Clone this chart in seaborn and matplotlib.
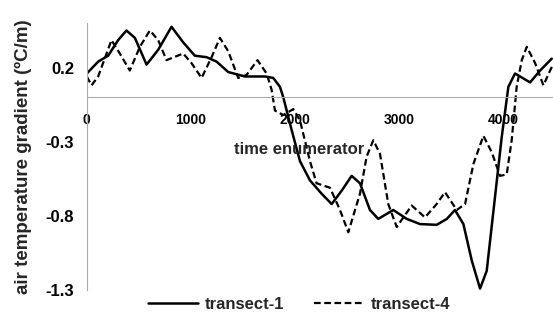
import pandas as pd
import matplotlib
matplotlib.use("Agg")
import matplotlib.pyplot as plt
import seaborn as sns

# values
t1_x = [0, 109, 205, 301, 381, 462, 574, 686, 814, 926, 1038, 1151, 1247, 1359,
        1519, 1712, 1792, 1856, 1888, 1968, 2048, 2144, 2256, 2353, 2449, 2545,
        2625, 2721, 2801, 2945, 3074, 3202, 3362, 3460, 3538, 3619, 3699, 3779,
        3843, 3923, 3987, 4051, 4115, 4260, 4356, 4468]
t1_y = [0.16, 0.24, 0.28, 0.385, 0.45, 0.40, 0.22, 0.32, 0.475, 0.37, 0.28, 0.27, 0.24, 0.17,
        0.14, 0.14, 0.13, 0.07, 0.0, -0.22, -0.43, -0.56, -0.65, -0.72, -0.63, -0.53,
        -0.58, -0.76, -0.82, -0.76, -0.82, -0.855, -0.86, -0.82, -0.76, -0.855, -1.10, -1.29,
        -1.17, -0.67, -0.27, 0.07, 0.16, 0.10, 0.18, 0.26]

t4_x = [0, 45, 109, 237, 317, 413, 510, 606, 686, 766, 926, 1006, 1103, 1199,
        1279, 1359, 1455, 1535, 1640, 1728, 1776, 1808, 1888, 1984, 2048, 2144,
        2208, 2337, 2433, 2513, 2625, 2689, 2753, 2817, 2897, 2978, 3042, 3122,
        3250, 3362, 3442, 3555, 3635, 3715, 3811, 3891, 3971, 4035, 4083, 4131,
        4180, 4228, 4308, 4388, 4452, 4480]
t4_y = [0.14, 0.08, 0.14, 0.385, 0.295, 0.18, 0.34, 0.45, 0.385, 0.25, 0.295, 0.23, 0.13, 0.27,
        0.40, 0.31, 0.13, 0.15, 0.25, 0.16, 0.05, -0.09, -0.12, -0.08, -0.155, -0.43,
        -0.58, -0.61, -0.76, -0.91, -0.65, -0.40, -0.29, -0.38, -0.72, -0.875, -0.81, -0.73,
        -0.81, -0.72, -0.64, -0.76, -0.72, -0.45, -0.26, -0.37, -0.53, -0.52, -0.29, 0.07,
        0.25, 0.34, 0.23, 0.08, 0.18, 0.22]

y_ticks = [0.2, -0.3, -0.8, -1.3]
x_ticks = [0, 1000, 2000, 3000, 4000]

df1 = pd.DataFrame({"time": t1_x, "gradient": t1_y})
df4 = pd.DataFrame({"time": t4_x, "gradient": t4_y})

sns.set_style("white")
plt.rcParams["font.family"] = ["Liberation Sans", "DejaVu Sans"]
plt.rcParams["font.weight"] = "bold"

fig = plt.figure(figsize=(5.53, 3.16), dpi=100)
ax = fig.add_axes([0.157, 0.082, 0.843, 0.845])

sns.lineplot(data=df1, x="time", y="gradient", ax=ax, color="black",
             linewidth=1.8, label="transect-1")
sns.lineplot(data=df4, x="time", y="gradient", ax=ax, color="black",
             linewidth=1.6, linestyle=(0, (3, 1.6)), label="transect-4")

ax.set_xlim(0, 4480)
ax.set_ylim(-1.3, 0.5)
ax.set_yticks(y_ticks)
ax.set_yticklabels([str(v) for v in y_ticks], fontsize=12, fontweight="bold")
ax.set_xticks(x_ticks)
ax.set_xticklabels([str(v) for v in x_ticks], fontsize=12, fontweight="bold")

for s in ["top", "right"]:
    ax.spines[s].set_visible(False)
ax.spines["left"].set_color("#aaaaaa")
ax.spines["bottom"].set_position(("data", 0))
ax.spines["bottom"].set_color("#aaaaaa")
ax.tick_params(axis="both", colors="#aaaaaa", labelcolor="black", length=3,
               direction="out")
ax.tick_params(axis="x", pad=8)
ax.tick_params(axis="y", pad=6)

ax.set_xlabel("")
ax.set_ylabel("air temperature gradient (ºC/m)", fontsize=13.5, fontweight="bold",
              labelpad=10)
ax.text(0.455, 0.525, "time enumerator", transform=ax.transAxes, ha="center",
        va="center", fontsize=12, fontweight="bold")

ax.legend(loc="upper center", bbox_to_anchor=(0.455, -0.0), ncol=2,
          frameon=False, fontsize=12, handlelength=3.0, columnspacing=1.8,
          borderaxespad=0, handletextpad=0.4)

fig.savefig("out.png", dpi=100)
